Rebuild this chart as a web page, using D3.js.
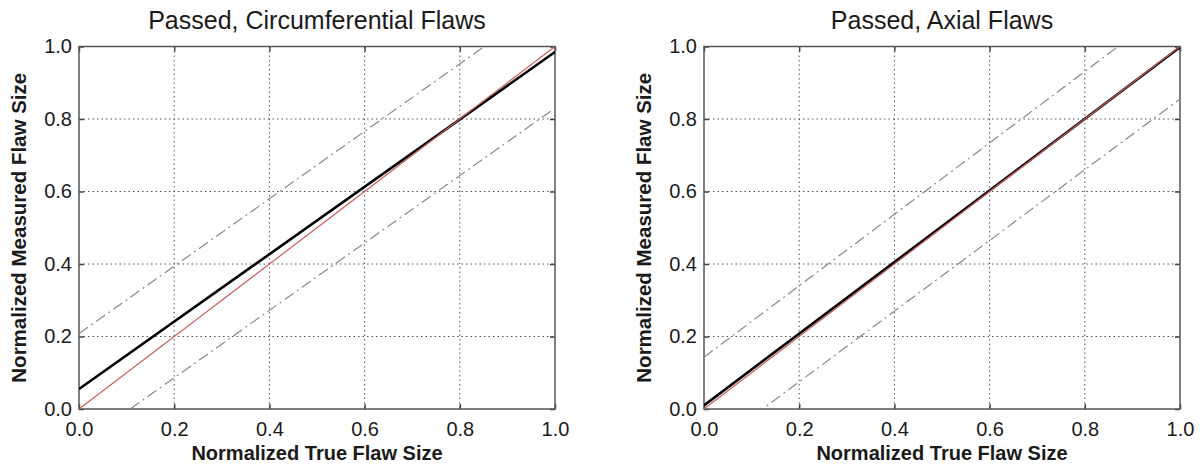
<!DOCTYPE html>
<html><head><meta charset="utf-8">
<script src="https://cdn.jsdelivr.net/npm/d3@7"></script>
<style>body{margin:0;background:#fff}svg{display:block}text{font-family:"Liberation Sans",Arial,sans-serif;fill:#1a1a1a}</style>
</head><body><svg id="c" width="1203" height="469"></svg>
<script>
// ---- data ----
const tickValues = [0.0, 0.2, 0.4, 0.6, 0.8, 1.0];
const titles = ["Passed, Circumferential Flaws", "Passed, Axial Flaws"];
const xLabel = "Normalized True Flaw Size";
const yLabel = "Normalized Measured Flaw Size";
// each series: line endpoints [x, y]
const circFit = [[0, 0.055], [1, 0.985]];
const circIdeal = [[0, 0], [1, 1]];
const circUpper = [[0, 0.208], [1, 1.138]];
const circLower = [[0, -0.100], [1, 0.830]];
const axialFit = [[0, 0.010], [1, 0.998]];
const axialIdeal = [[0, 0], [1, 1]];
const axialUpper = [[0, 0.143], [1, 1.128]];
const axialLower = [[0, -0.120], [1, 0.855]];

const panels = [
  {title: titles[0], left: 79, fit: circFit, ideal: circIdeal, upper: circUpper, lower: circLower, ylabX: 19},
  {title: titles[1], left: 704, fit: axialFit, ideal: axialIdeal, upper: axialUpper, lower: axialLower, ylabX: 644}
];
const W = 476, plotTop = 46.5, plotBottom = 409;
const svg = d3.select("#c");

panels.forEach((p, i) => {
  const x = d3.scaleLinear().domain([0, 1]).range([p.left, p.left + W]);
  const y = d3.scaleLinear().domain([0, 1]).range([plotBottom, plotTop]);
  const g = svg.append("g");
  const cid = "clip" + i;
  svg.append("clipPath").attr("id", cid).append("rect")
    .attr("x", p.left).attr("y", plotTop).attr("width", W).attr("height", plotBottom - plotTop);

  // grid
  g.append("g").selectAll("line").data(tickValues.slice(1, -1)).join("line")
    .attr("x1", d => x(d)).attr("x2", d => x(d)).attr("y1", plotTop).attr("y2", plotBottom)
    .attr("stroke", "#555").attr("stroke-width", 1).attr("stroke-dasharray", "1.5,3");
  g.append("g").selectAll("line").data(tickValues.slice(1, -1)).join("line")
    .attr("y1", d => y(d)).attr("y2", d => y(d)).attr("x1", p.left).attr("x2", p.left + W)
    .attr("stroke", "#555").attr("stroke-width", 1).attr("stroke-dasharray", "1.5,3");

  // axes (inward ticks)
  const fmt = d3.format(".1f");
  const xa = g.append("g").attr("transform", `translate(0,${plotBottom})`)
    .call(d3.axisBottom(x).tickValues(tickValues).tickFormat(fmt).tickSizeInner(-5).tickSizeOuter(0).tickPadding(13));
  const xa2 = g.append("g").attr("transform", `translate(0,${plotTop})`)
    .call(d3.axisTop(x).tickValues(tickValues).tickFormat("").tickSizeInner(-5).tickSizeOuter(0));
  const ya = g.append("g").attr("transform", `translate(${p.left},0)`)
    .call(d3.axisLeft(y).tickValues(tickValues).tickFormat(fmt).tickSizeInner(-5).tickSizeOuter(0).tickPadding(7));
  const ya2 = g.append("g").attr("transform", `translate(${p.left + W},0)`)
    .call(d3.axisRight(y).tickValues(tickValues).tickFormat("").tickSizeInner(-5).tickSizeOuter(0));
  [xa, xa2, ya, ya2].forEach(a => {
    a.select(".domain").remove();
    a.selectAll(".tick line").attr("stroke", "#444").attr("stroke-width", 1.5);
    a.selectAll("text").style("font-size", "20px").style("fill", "#1a1a1a").attr("font-family", null);
  });
  g.append("rect").attr("x", p.left).attr("y", plotTop).attr("width", W).attr("height", plotBottom - plotTop)
    .attr("fill", "none").attr("stroke", "#555").attr("stroke-width", 1.5);

  const line = d3.line().x(d => x(d[0])).y(d => y(d[1]));
  const lg = g.append("g").attr("clip-path", `url(#${cid})`);
  [p.upper, p.lower].forEach(s => lg.append("path").attr("d", line(s)).attr("fill", "none")
    .attr("stroke", "#8a8a8a").attr("stroke-width", 1.2).attr("stroke-dasharray", "11,4,2,4"));
  lg.append("path").attr("d", line(p.fit)).attr("fill", "none").attr("stroke", "#000").attr("stroke-width", 2.6);
  lg.append("path").attr("d", line(p.ideal)).attr("fill", "none").attr("stroke", "#c85a5a").attr("stroke-width", 1.2);

  // titles & labels
  svg.append("text").attr("x", p.left + W / 2).attr("y", 29).attr("text-anchor", "middle")
    .style("font-size", "25px").text(p.title);
  svg.append("text").attr("x", p.left + W / 2).attr("y", 460).attr("text-anchor", "middle")
    .style("font-size", "20px").style("font-weight", "bold").text(xLabel);
  svg.append("text").attr("transform", `translate(${p.ylabX},${(plotTop + plotBottom) / 2}) rotate(-90)`)
    .attr("text-anchor", "middle").attr("dy", "0.35em")
    .style("font-size", "20.5px").style("font-weight", "bold").text(yLabel);
});
</script></body></html>
